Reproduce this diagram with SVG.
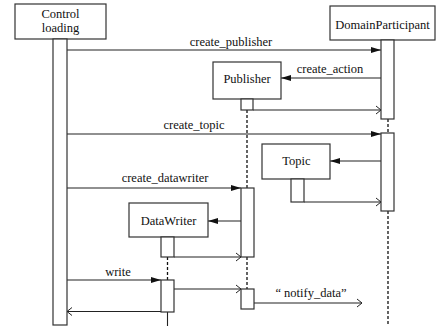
<svg xmlns="http://www.w3.org/2000/svg" width="438" height="326" viewBox="0 0 438 326" font-family="'Liberation Serif', 'Times New Roman', 'DejaVu Serif', serif">
<defs>
<marker id="fill" markerWidth="10" markerHeight="8" refX="10" refY="4" orient="auto" markerUnits="userSpaceOnUse">
<path d="M0,1 L10,4 L0,7 Z" fill="#111"/>
</marker>
<marker id="open" markerWidth="8" markerHeight="10" refX="6" refY="5" orient="auto" markerUnits="userSpaceOnUse">
<path d="M1,1 L6,5 L1,9" fill="none" stroke="#222" stroke-width="1"/>
</marker>
</defs>
<style>
text{font-family:'Liberation Serif','Times New Roman','DejaVu Serif',serif;font-size:12.5px;fill:#111}
.box{fill:#fff;stroke:#333;stroke-width:1.2}
.act{fill:#fff;stroke:#333;stroke-width:1.2}
.msg{stroke:#222;stroke-width:1.1;fill:none}
.dash{stroke:#111;stroke-width:1.3;stroke-dasharray:3,2;fill:none}
.mid{text-anchor:middle}
</style>
<rect width="438" height="326" fill="#fff"/>
<g id="connectors">
<line class="dash" x1="247" y1="110" x2="247" y2="188"/>
<line class="dash" x1="247" y1="257" x2="247" y2="289"/>
<line class="dash" x1="388" y1="119" x2="388" y2="133"/>
<line class="dash" x1="388" y1="211" x2="388" y2="326"/>
<line class="dash" x1="167.5" y1="257" x2="167.5" y2="280"/>
<line class="msg" x1="167.5" y1="312" x2="167.5" y2="326"/>
<line class="msg" x1="67" y1="50" x2="381" y2="50" marker-end="url(#fill)"/>
<text class="mid" x="231" y="45.5">create_publisher</text>
<line class="msg" x1="381" y1="78" x2="281" y2="78" marker-end="url(#fill)"/>
<text class="mid" x="330" y="73">create_action</text>
<line class="msg" x1="253" y1="110" x2="381" y2="110" marker-end="url(#open)"/>
<line class="msg" x1="67" y1="134" x2="381" y2="134" marker-end="url(#fill)"/>
<text class="mid" x="194" y="129">create_topic</text>
<line class="msg" x1="381" y1="161" x2="330" y2="161" marker-end="url(#fill)"/>
<line class="msg" x1="304" y1="202" x2="381" y2="202" marker-end="url(#open)"/>
<line class="msg" x1="67" y1="188" x2="241" y2="188" marker-end="url(#fill)"/>
<text class="mid" x="165" y="182">create_datawriter</text>
<line class="msg" x1="241" y1="221" x2="208" y2="221" marker-end="url(#fill)"/>
<line class="msg" x1="174" y1="257" x2="241" y2="257" marker-end="url(#open)"/>
<line class="msg" x1="67" y1="280" x2="161" y2="280" marker-end="url(#fill)"/>
<text class="mid" x="118" y="276">write</text>
<line class="msg" x1="174" y1="289" x2="241" y2="289" marker-end="url(#open)"/>
<line class="msg" x1="254" y1="303" x2="362" y2="303" marker-end="url(#open)"/>
<text class="mid" x="311" y="297">“ notify_data”</text>
<line class="msg" x1="161" y1="311.5" x2="67" y2="311.5" marker-end="url(#open)"/>
</g>
<g id="control">
<rect class="box" x="15" y="4" width="91" height="35"/>
<text class="mid" x="60.5" y="18">Control</text>
<text class="mid" x="60.5" y="32">loading</text>
<rect class="act" x="53" y="39" width="14" height="286"/>
</g>
<g id="domainparticipant">
<rect class="box" x="330" y="6" width="105" height="34"/>
<text class="mid" x="382.5" y="28.5">DomainParticipant</text>
<rect class="act" x="381" y="40" width="13" height="79"/>
<rect class="act" x="381" y="133" width="13" height="78"/>
</g>
<g id="publisher">
<rect class="box" x="213" y="62" width="68" height="37"/>
<text class="mid" x="247" y="83">Publisher</text>
<rect class="act" x="241" y="99" width="12" height="11"/>
<rect class="act" x="241" y="188" width="13" height="69"/>
<rect class="act" x="241" y="289" width="13" height="20"/>
</g>
<g id="topic">
<rect class="box" x="262" y="144" width="68" height="35"/>
<text class="mid" x="296.5" y="165">Topic</text>
<rect class="act" x="291" y="179" width="13" height="23"/>
</g>
<g id="datawriter">
<rect class="box" x="129" y="203" width="79" height="34"/>
<text class="mid" x="168.5" y="225">DataWriter</text>
<rect class="act" x="161" y="237" width="13" height="20"/>
<rect class="act" x="161" y="280" width="13" height="32"/>
</g>
</svg>
